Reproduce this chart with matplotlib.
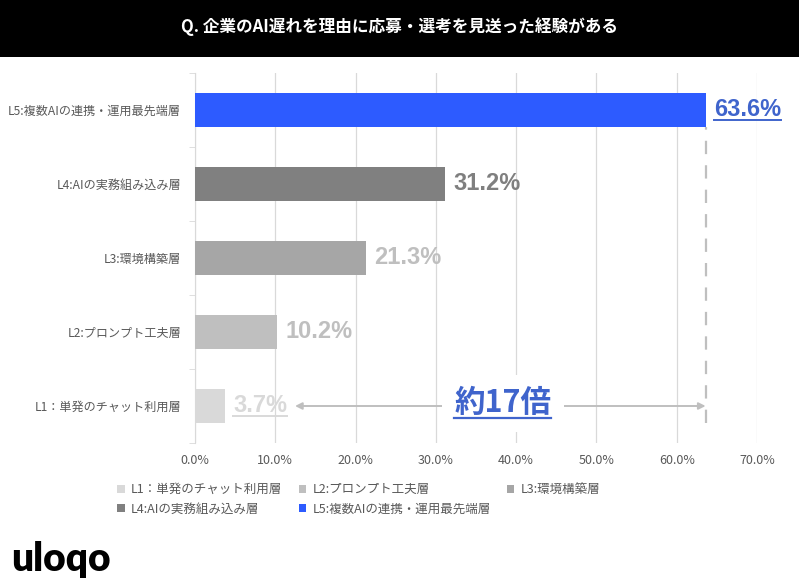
import matplotlib
matplotlib.use("Agg")
import matplotlib.pyplot as plt
from matplotlib.patches import Rectangle, Patch

plt.rcParams["font.family"] = ["Noto Sans CJK JP", "DejaVu Sans"]

# Data (bottom to top)
categories = [
    "L1：単発のチャット利用層",
    "L2:プロンプト工夫層",
    "L3:環境構築層",
    "L4:AIの実務組み込み層",
    "L5:複数AIの連携・運用最先端層",
]
values = [3.7, 10.2, 21.3, 31.2, 63.6]
bar_colors = ["#D9D9D9", "#BFBFBF", "#A6A6A6", "#808080", "#2D5BFF"]
label_colors = ["#D9D9D9", "#BFBFBF", "#BFBFBF", "#7F7F7F", "#3F64CC"]
x_ticks = [0, 10, 20, 30, 40, 50, 60, 70]
title = "Q. 企業のAI遅れを理由に応募・選考を見送った経験がある"
ratio_text = "約17倍"

W, H = 799, 578
fig = plt.figure(figsize=(W / 100, H / 100), dpi=100)
fig.patch.set_facecolor("white")

# title band
fig.patches.append(Rectangle((0, 1 - 57 / H), 1, 57 / H, transform=fig.transFigure,
                             facecolor="black", edgecolor="none", zorder=0))
fig.text(0.5, 1 - 27 / H, title, color="white", fontsize=12, fontweight="bold",
         ha="center", va="center")

ax = fig.add_axes([195 / W, 1 - 443 / H, 562 / W, 370 / H])
ypos = list(range(len(categories)))
bar_h = 0.47
ax.barh(ypos, values, height=bar_h, color=bar_colors, zorder=3)

ax.set_xlim(0, 70)
ax.set_ylim(-0.5, len(categories) - 0.5)
ax.set_xticks(x_ticks)
ax.set_xticklabels([f"{t:.1f}%" for t in x_ticks], fontsize=9, color="#595959")
ax.set_yticks(ypos)
ax.set_yticklabels(categories, fontsize=8.7, color="#595959")
ax.set_yticks([i - 0.5 for i in range(len(categories) + 1)], minor=True)
ax.tick_params(axis="y", which="major", length=0, pad=10)
ax.tick_params(axis="y", which="minor", length=4, color="#D9D9D9")
ax.tick_params(axis="x", length=0, pad=8)
ax.grid(axis="x", color="#D9D9D9", linewidth=0.9, zorder=0)
for s in ["top", "right", "bottom"]:
    ax.spines[s].set_visible(False)
ax.spines["left"].set_color("#D9D9D9")

# value labels
labels = []
for y, v, c in zip(ypos, values, label_colors):
    t = ax.annotate(f"{v}%", (v, y), xytext=(6, 0), textcoords="offset points",
                    ha="left", va="center", fontsize=17, fontweight="bold",
                    color=c, family=["Liberation Sans", "DejaVu Sans"])
    labels.append(t)

# dashed reference line at the top value
ax.plot([values[-1], values[-1]], [ypos[0] - bar_h / 2, ypos[-1] - bar_h / 2],
        color="#BFBFBF", linestyle=(0, (6, 5)), linewidth=1.6, zorder=2)

fig.canvas.draw()
renderer = fig.canvas.get_renderer()
inv = ax.transData.inverted()

# underline first and last labels
for i in [0, len(values) - 1]:
    bb = labels[i].get_window_extent(renderer)
    x0, _ = inv.transform((bb.x0, bb.y0))
    x1, _ = inv.transform((bb.x1, bb.y0))
    _, yl = inv.transform((bb.x0, bb.y0 + 2))
    ax.plot([x0, x1], [yl, yl], color=label_colors[i], linewidth=1.4,
            clip_on=False, zorder=4)

# arrow between L1 label and L5 value
bb1 = labels[0].get_window_extent(renderer)
x_start = inv.transform((bb1.x1 + 8, 0))[0]
x_end = values[-1]
ax.annotate("", xy=(x_start, ypos[0]), xytext=(x_end, ypos[0]),
            arrowprops=dict(arrowstyle="<|-|>", color="#BFBFBF", lw=1.4,
                            mutation_scale=10, shrinkA=0, shrinkB=0), zorder=4)
mid = (x_start + x_end) / 2 + 0.3
rt = ax.text(mid, ypos[0] + 0.04, ratio_text, ha="center", va="center", fontsize=22,
             fontweight="bold", color="#3F64CC", zorder=5,
             bbox=dict(facecolor="white", edgecolor="none", pad=9))
fig.canvas.draw()
bbr = rt.get_window_extent(renderer)
rx0 = inv.transform((bbr.x0, 0))[0]
rx1 = inv.transform((bbr.x1, 0))[0]
ry = inv.transform((0, bbr.y0 + 1))[1]
ax.plot([rx0, rx1], [ry, ry], color="#3F64CC", linewidth=1.6, clip_on=False, zorder=6)

# legend (row-wise order L1 L2 L3 / L4 L5)
handles = [Patch(facecolor=c, edgecolor="none") for c in bar_colors]
order = [0, 3, 1, 4, 2]
fig.legend([handles[i] for i in order], [categories[i] for i in order],
           loc="upper left", bbox_to_anchor=(106 / W, 1 - 472 / H), ncol=3,
           frameon=False, fontsize=9, labelcolor="#595959",
           handlelength=0.6, handleheight=0.6, handletextpad=0.5,
           columnspacing=1.3, labelspacing=0.5)

# logo
fig.text(11 / W, 1 - 559 / H, "uloqo", fontsize=28, fontweight="heavy",
         family=["Lato", "DejaVu Sans"], color="black", ha="left", va="center")

fig.savefig("out.png", dpi=100)
